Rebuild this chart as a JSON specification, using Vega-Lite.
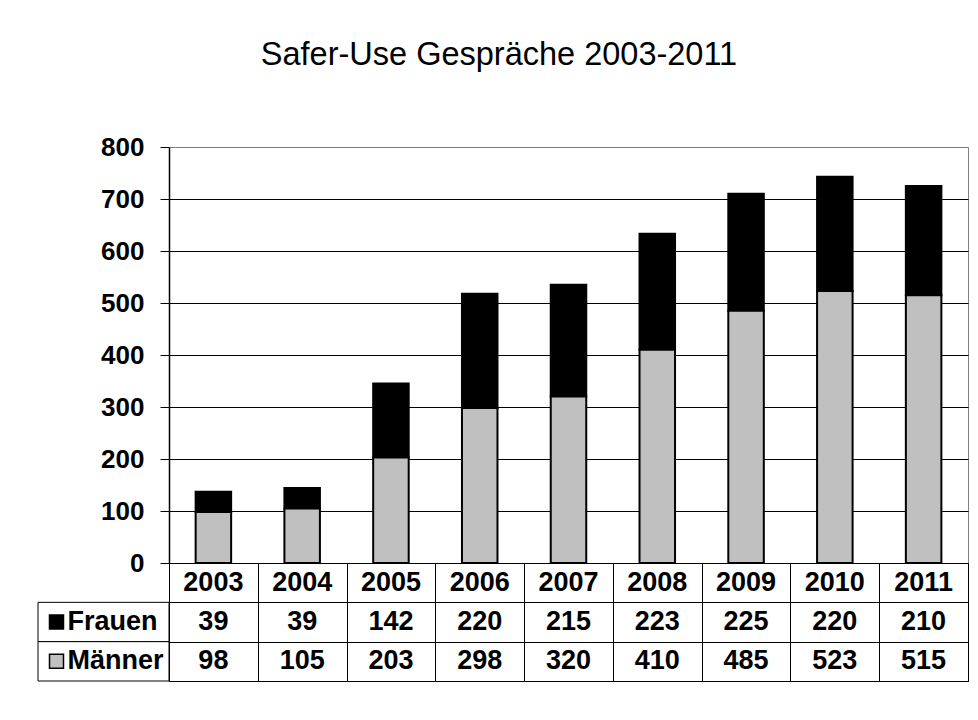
{
  "$schema": "https://vega.github.io/schema/vega-lite/v6.json",
  "background": "white",
  "padding": {"left": 37, "top": 39, "right": 9, "bottom": 5},
  "title": {"text": "Safer-Use Gespräche 2003-2011", "anchor": "middle", "fontSize": 32.5, "fontWeight": "normal", "font": "Liberation Sans", "color": "black", "offset": 62, "dx": -4},
  "datasets": {
    "d": [
      {"Jahr": "2003", "Geschlecht": "Frauen", "Anzahl": 39},
      {"Jahr": "2004", "Geschlecht": "Frauen", "Anzahl": 39},
      {"Jahr": "2005", "Geschlecht": "Frauen", "Anzahl": 142},
      {"Jahr": "2006", "Geschlecht": "Frauen", "Anzahl": 220},
      {"Jahr": "2007", "Geschlecht": "Frauen", "Anzahl": 215},
      {"Jahr": "2008", "Geschlecht": "Frauen", "Anzahl": 223},
      {"Jahr": "2009", "Geschlecht": "Frauen", "Anzahl": 225},
      {"Jahr": "2010", "Geschlecht": "Frauen", "Anzahl": 220},
      {"Jahr": "2011", "Geschlecht": "Frauen", "Anzahl": 210},
      {"Jahr": "2003", "Geschlecht": "Männer", "Anzahl": 98},
      {"Jahr": "2004", "Geschlecht": "Männer", "Anzahl": 105},
      {"Jahr": "2005", "Geschlecht": "Männer", "Anzahl": 203},
      {"Jahr": "2006", "Geschlecht": "Männer", "Anzahl": 298},
      {"Jahr": "2007", "Geschlecht": "Männer", "Anzahl": 320},
      {"Jahr": "2008", "Geschlecht": "Männer", "Anzahl": 410},
      {"Jahr": "2009", "Geschlecht": "Männer", "Anzahl": 485},
      {"Jahr": "2010", "Geschlecht": "Männer", "Anzahl": 523},
      {"Jahr": "2011", "Geschlecht": "Männer", "Anzahl": 515}
    ]
  },
  "columns": 2,
  "spacing": 0,
  "bounds": "flush",
  "concat": [
    {
      "width": 131,
      "height": 416,
      "data": {"values": []},
      "mark": "point",
      "encoding": {},
      "view": {"stroke": null}
    },
    {
      "width": 799,
      "height": 416,
      "data": {"name": "d"},
      "view": {"stroke": "#808080", "strokeWidth": 1},
      "mark": {"type": "bar", "stroke": "black", "strokeWidth": 2},
      "encoding": {
        "x": {"field": "Jahr", "type": "nominal", "scale": {"paddingInner": 0.6, "paddingOuter": 0.3}, "axis": null},
        "y": {
          "field": "Anzahl", "type": "quantitative", "stack": "zero",
          "scale": {"domain": [0, 800], "nice": false, "zero": true},
          "axis": {
            "values": [0, 100, 200, 300, 400, 500, 600, 700, 800],
            "title": null,
            "grid": true,
            "gridColor": {"condition": {"test": "datum.value === 800", "value": "#808080"}, "value": "black"},
            "gridOpacity": 1,
            "gridWidth": 1,
            "domainColor": "black",
            "domainWidth": 1.5,
            "tickColor": "black",
            "tickWidth": 1,
            "tickSize": 9,
            "labelPadding": 16,
            "labelFont": "Liberation Sans",
            "labelFontSize": 26,
            "labelFontWeight": "bold",
            "labelColor": "black"
          }
        },
        "color": {"field": "Geschlecht", "type": "nominal", "scale": {"domain": ["Frauen", "Männer"], "range": ["black", "#c0c0c0"]}, "legend": null},
        "order": {"field": "Geschlecht", "sort": "descending"}
      }
    },
    {
      "width": 131,
      "height": 118,
      "data": {"name": "d"},
      "transform": [{"aggregate": [{"op": "count", "as": "c"}], "groupby": ["Geschlecht"]}],
      "view": {"stroke": null},
      "encoding": {
        "y": {"field": "Geschlecht", "type": "nominal", "scale": {"domain": ["Jahr", "Frauen", "Männer"], "paddingInner": 0, "paddingOuter": 0}, "axis": null}
      },
      "layer": [
        {"mark": {"type": "rect", "fill": "white", "stroke": "black", "strokeWidth": 1}},
        {
          "mark": {"type": "point", "shape": "square", "size": 196, "filled": true, "stroke": "black", "strokeWidth": 1.5, "opacity": 1, "xOffset": -47},
          "encoding": {"fill": {"field": "Geschlecht", "type": "nominal", "scale": {"domain": ["Frauen", "Männer"], "range": ["black", "#c0c0c0"]}, "legend": null}}
        },
        {
          "mark": {"type": "text", "align": "left", "baseline": "middle", "dx": -36, "font": "Liberation Sans", "fontSize": 27, "fontWeight": "bold", "color": "black"},
          "encoding": {"text": {"field": "Geschlecht"}}
        }
      ]
    },
    {
      "width": 799,
      "height": 118,
      "data": {"name": "d"},
      "view": {"stroke": "black", "strokeWidth": 1},
      "encoding": {
        "x": {
          "field": "Jahr", "type": "nominal",
          "scale": {"paddingInner": 0, "paddingOuter": 0},
          "axis": {"orient": "bottom", "grid": true, "tickBand": "extent", "labels": false, "ticks": false, "domain": false, "title": null, "gridColor": "black", "gridOpacity": 1}
        }
      },
      "layer": [
        {
          "mark": {"type": "text", "baseline": "middle", "font": "Liberation Sans", "fontSize": 27, "fontWeight": "bold", "color": "black"},
          "encoding": {
            "y": {
              "field": "Geschlecht", "type": "nominal",
              "scale": {"domain": ["Jahr", "Frauen", "Männer"], "paddingInner": 0, "paddingOuter": 0},
              "axis": {"grid": true, "tickBand": "extent", "labels": false, "ticks": false, "domain": false, "title": null, "gridColor": "black", "gridOpacity": 1}
            },
            "text": {"field": "Anzahl", "type": "quantitative"}
          }
        },
        {
          "transform": [{"filter": "datum.Geschlecht === 'Frauen'"}],
          "mark": {"type": "text", "baseline": "middle", "font": "Liberation Sans", "fontSize": 27, "fontWeight": "bold", "color": "black"},
          "encoding": {
            "y": {"datum": "Jahr", "type": "nominal"},
            "text": {"field": "Jahr", "type": "nominal"}
          }
        }
      ]
    }
  ],
  "config": {
    "font": "Liberation Sans"
  }
}
